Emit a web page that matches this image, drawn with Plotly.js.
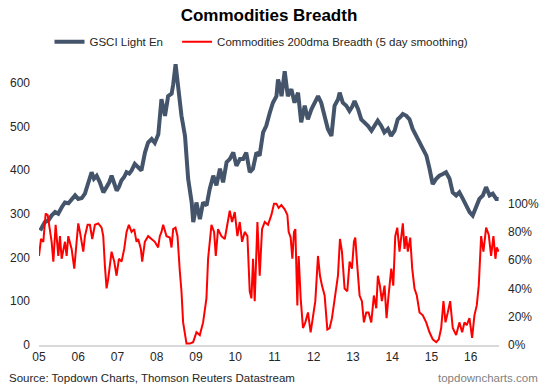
<!DOCTYPE html>
<html>
<head>
<meta charset="utf-8">
<script src="https://cdn.plot.ly/plotly-3.0.1.min.js"></script>
<style>html,body{margin:0;padding:0;background:#fff;}#chart{width:550px;height:391px;}</style>
</head>
<body>
<div id="chart"></div>
<script>
// GSCI Light Energy index (decimal year, index level)
var gsciT = [2005.03,2005.15,2005.24,2005.32,2005.41,2005.49,2005.58,2005.66,2005.75,2005.83,2005.92,2006.00,2006.09,2006.17,2006.26,2006.34,2006.40,2006.47,2006.55,2006.64,2006.72,2006.79,2006.85,2006.92,2006.98,2007.04,2007.10,2007.17,2007.23,2007.30,2007.36,2007.44,2007.53,2007.61,2007.70,2007.78,2007.87,2007.95,2008.04,2008.08,2008.12,2008.21,2008.29,2008.38,2008.42,2008.48,2008.55,2008.63,2008.72,2008.80,2008.89,2008.93,2008.97,2009.01,2009.06,2009.10,2009.18,2009.27,2009.35,2009.44,2009.52,2009.61,2009.69,2009.78,2009.86,2009.95,2010.03,2010.12,2010.20,2010.28,2010.37,2010.45,2010.54,2010.62,2010.71,2010.79,2010.88,2010.96,2011.05,2011.09,2011.13,2011.18,2011.26,2011.34,2011.43,2011.51,2011.60,2011.68,2011.77,2011.85,2011.94,2012.02,2012.11,2012.19,2012.28,2012.36,2012.45,2012.53,2012.62,2012.66,2012.74,2012.83,2012.91,2012.98,2013.04,2013.13,2013.21,2013.30,2013.38,2013.47,2013.55,2013.63,2013.72,2013.80,2013.89,2013.97,2014.06,2014.14,2014.19,2014.27,2014.36,2014.44,2014.52,2014.61,2014.70,2014.78,2014.87,2014.95,2015.03,2015.12,2015.20,2015.29,2015.37,2015.46,2015.54,2015.63,2015.71,2015.80,2015.88,2015.97,2016.05,2016.14,2016.22,2016.31,2016.39,2016.48,2016.56,2016.65,2016.71];
var gsciV = [262,281,285,296,304,300,315,326,324,332,342,334,336,346,372,395,380,387,372,349,361,372,387,368,353,362,376,384,395,392,399,414,406,399,440,463,471,462,482,531,562,524,569,575,596,642,585,524,478,380,326,281,300,326,305,288,326,319,357,387,365,403,372,418,425,440,410,425,425,440,395,403,440,433,486,501,531,554,569,607,595,569,626,569,585,554,577,509,547,516,539,554,569,554,524,494,478,547,562,577,554,547,535,545,558,539,516,509,501,490,501,513,501,486,494,478,490,516,520,528,524,516,494,478,459,448,433,403,368,380,387,391,395,380,349,342,349,334,319,304,296,319,334,342,361,342,346,334,334];

// Commodities 200dma breadth, 5 day smoothing (decimal year, percent)
var breadthT = [2005.000,2005.051,2005.110,2005.170,2005.221,2005.280,2005.322,2005.365,2005.424,2005.492,2005.534,2005.577,2005.662,2005.704,2005.746,2005.831,2005.899,2005.958,2006.000,2006.043,2006.128,2006.170,2006.238,2006.297,2006.357,2006.425,2006.510,2006.595,2006.637,2006.679,2006.722,2006.764,2006.849,2006.917,2006.976,2007.036,2007.104,2007.171,2007.231,2007.290,2007.358,2007.425,2007.485,2007.527,2007.595,2007.629,2007.697,2007.781,2007.866,2007.951,2008.036,2008.078,2008.121,2008.163,2008.249,2008.333,2008.376,2008.418,2008.478,2008.529,2008.588,2008.630,2008.672,2008.715,2008.758,2008.842,2008.927,2009.012,2009.097,2009.181,2009.266,2009.308,2009.394,2009.461,2009.504,2009.562,2009.648,2009.733,2009.801,2009.860,2009.919,2009.987,2010.055,2010.115,2010.174,2010.242,2010.310,2010.369,2010.412,2010.454,2010.496,2010.565,2010.623,2010.683,2010.751,2010.835,2010.921,2010.988,2011.047,2011.107,2011.175,2011.260,2011.328,2011.361,2011.412,2011.455,2011.497,2011.531,2011.582,2011.616,2011.667,2011.726,2011.786,2011.853,2011.921,2011.981,2012.040,2012.108,2012.159,2012.210,2012.277,2012.346,2012.405,2012.464,2012.532,2012.617,2012.668,2012.719,2012.786,2012.855,2012.913,2012.973,2013.024,2013.058,2013.109,2013.168,2013.227,2013.278,2013.338,2013.397,2013.466,2013.532,2013.593,2013.634,2013.685,2013.736,2013.804,2013.855,2013.906,2013.975,2014.026,2014.077,2014.128,2014.186,2014.270,2014.313,2014.356,2014.397,2014.458,2014.509,2014.567,2014.626,2014.695,2014.779,2014.865,2014.949,2015.033,2015.120,2015.186,2015.247,2015.305,2015.356,2015.415,2015.476,2015.542,2015.628,2015.712,2015.781,2015.840,2015.898,2015.967,2016.035,2016.094,2016.153,2016.204,2016.265,2016.323,2016.392,2016.458,2016.519,2016.578,2016.629,2016.663,2016.712];
var breadthV = [63,75,73,93,92,82,73,59,85,63,77,61,73,63,77,68,54,73,86,80,66,77,85,85,75,85,86,83,77,56,40,47,66,59,49,61,59,68,80,85,80,82,73,75,68,59,73,77,75,73,69,77,80,85,77,76,69,82,83,77,52,38,16,9,1,1,2,9,7,16,33,61,85,80,63,82,77,75,85,95,87,94,77,87,73,80,77,38,33,61,31,87,49,82,87,85,92,100,100,97,99,96,92,80,76,61,80,82,28,63,33,12,16,23,9,21,31,63,49,42,35,11,12,19,31,49,75,66,40,38,59,54,73,76,56,35,31,16,23,23,16,35,26,49,42,31,42,19,35,54,42,77,83,66,86,68,77,66,76,54,40,35,23,21,16,9,4,2,4,12,31,16,23,31,12,7,16,9,16,14,19,5,21,28,42,77,66,83,78,63,77,61,69,66];

var yearTicks = [2005,2006,2007,2008,2009,2010,2011,2012,2013,2014,2015,2016];
var yearLabels = ['05','06','07','08','09','10','11','12','13','14','15','16'];
var leftTicks = [0,100,200,300,400,500,600];
var rightTicks = [0,20,40,60,80,100];
var rightLabels = ['0%','20%','40%','60%','80%','100%'];

var FONT = 'Liberation Sans, Arial, sans-serif';

var traces = [
  {x: gsciT, y: gsciV, type: 'scatter', mode: 'lines', name: 'GSCI Light En',
   line: {color: '#44546A', width: 4}, yaxis: 'y', legend: 'legend'},
  {x: breadthT, y: breadthV, type: 'scatter', mode: 'lines', name: 'Commodities 200dma Breadth (5 day smoothing)',
   line: {color: '#FF0000', width: 2}, yaxis: 'y2', legend: 'legend2'}
];

var legendBase = {orientation: 'h', xref: 'container', yref: 'container', y: 0.893,
  xanchor: 'left', yanchor: 'middle', font: {family: FONT, size: 11.5, color: '#262626'},
  bgcolor: 'rgba(0,0,0,0)', itemwidth: 30};

var layout = {
  width: 550, height: 391,
  margin: {l: 39, r: 51, t: 55, b: 46},
  paper_bgcolor: '#fff', plot_bgcolor: '#fff',
  font: {family: FONT, size: 12, color: '#262626'},
  title: {text: '<b>Commodities Breadth</b>', font: {family: FONT, size: 17, color: '#000'},
          x: 0.5, xref: 'paper', y: 0.962, yref: 'container', yanchor: 'middle'},
  showlegend: true,
  legend: Object.assign({}, legendBase, {x: 0.09}),
  legend2: Object.assign({}, legendBase, {x: 0.322}),
  xaxis: {range: [2005, 2016.72], tickmode: 'array', tickvals: yearTicks, ticktext: yearLabels,
          showgrid: false, zeroline: false, showline: true, linecolor: '#D9D9D9', linewidth: 2,
          ticks: '', tickfont: {size: 12, color: '#262626'}, fixedrange: true},
  yaxis: {range: [0, 660], tickmode: 'array', tickvals: leftTicks, showgrid: false, zeroline: false, showline: false,
          ticks: '', ticklabelstandoff: 8, tickfont: {size: 12, color: '#262626'}},
  yaxis2: {range: [0, 204.2], tickmode: 'array', tickvals: rightTicks, ticktext: rightLabels,
           overlaying: 'y', side: 'right',
           showgrid: false, zeroline: false, showline: false, ticks: '', ticklabelstandoff: 8,
           tickfont: {size: 12, color: '#262626'}},
  annotations: [
    {text: 'Source: Topdown Charts, Thomson Reuters Datastream', xref: 'paper', yref: 'paper',
     x: -0.0696, y: -0.1138, xanchor: 'left', yanchor: 'middle', showarrow: false,
     font: {family: FONT, size: 11.5, color: '#262626'}},
    {text: 'topdowncharts.com', xref: 'paper', yref: 'paper',
     x: 1.089, y: -0.1138, xanchor: 'right', yanchor: 'middle', showarrow: false,
     font: {family: FONT, size: 11.5, color: '#7F7F7F'}}
  ]
};

Plotly.newPlot('chart', traces, layout, {displayModeBar: false, staticPlot: true});
</script>
</body>
</html>
